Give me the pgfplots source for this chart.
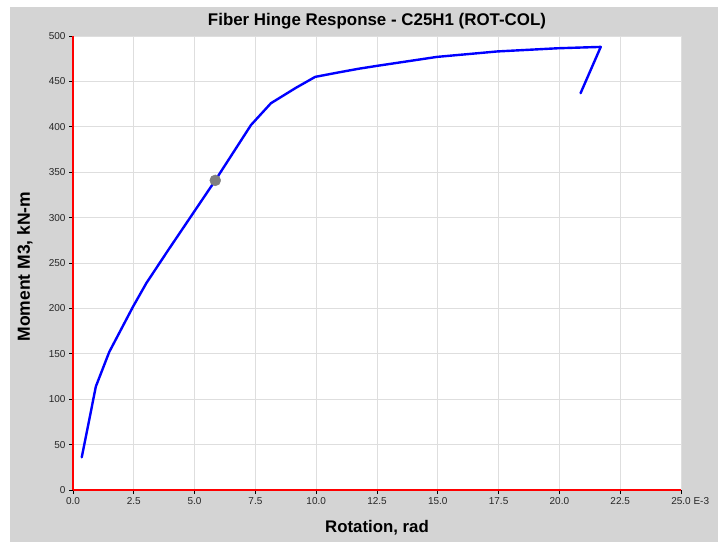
\documentclass[border=0pt]{standalone}
\usepackage{fontspec}
\setmainfont{Liberation Sans}
\usepackage{pgfplots}
\pgfplotsset{compat=1.18}
\definecolor{bg}{RGB}{212,212,212}
\definecolor{gridc}{RGB}{222,222,222}
\definecolor{mk}{RGB}{128,128,128}
\begin{document}
\begin{tikzpicture}[x=1pt,y=1pt]
\fill[white] (0,0) rectangle (718,542);
\fill[bg] (10,0) rectangle (718,535);
\useasboundingbox (0,0) rectangle (718,542);
\begin{axis}[at={(73pt,52pt)}, anchor=south west, scale only axis,
  width=608pt, height=454pt,
  xmin=0, xmax=25, ymin=0, ymax=500,
  axis x line=bottom, axis y line=left,
  axis line style={red, line width=1pt, -},
  axis background/.style={fill=white},
  xtick={0,2.5,...,25}, ytick={0,50,...,500},
  xticklabels={0.0,2.5,5.0,7.5,10.0,12.5,15.0,17.5,20.0,22.5,25.0\rlap{\ E-3}},
  /pgf/number format/assume math mode=true,
  grid=major, major grid style={gridc, line width=0.9pt},
  tick align=outside, major tick length=4pt,
  tick style={black, line width=0.7pt},
  ticklabel style={font=\fontsize{10}{11}\selectfont, text=black!85},
  clip=false,
]
\addplot[blue, line width=2.4pt, line join=round, line cap=round] coordinates {
(0.36,36) (0.94,114) (1.49,152) (2.47,202) (3.02,228) (3.91,264)
(5.85,341) (7.32,402) (8.14,426) (9.17,443) (9.96,455) (10.94,460)
(11.76,464) (12.47,467) (14.97,477) (17.45,483) (19.93,486.5) (21.7,488)
(20.87,437)
};
\addplot[only marks, mark=*, mark size=5.5pt, mk, mark options={draw=mk, fill=mk}] coordinates {(5.85,341)};
\end{axis}
\draw[red, line width=1.2pt] (73,52) -- (73,506);
\draw[red, line width=1.2pt] (73,52) -- (681,52);
\node[font=\fontsize{16.9}{19}\selectfont\bfseries] at (377,521) {Fiber Hinge Response - C25H1 (ROT-COL)};
\node[font=\fontsize{16.8}{19}\selectfont\bfseries] at (377,14) {Rotation, rad};
\node[rotate=90, font=\fontsize{17.5}{19}\selectfont\bfseries] at (25,275.5) {Moment M3, kN-m};
\end{tikzpicture}
\end{document}
